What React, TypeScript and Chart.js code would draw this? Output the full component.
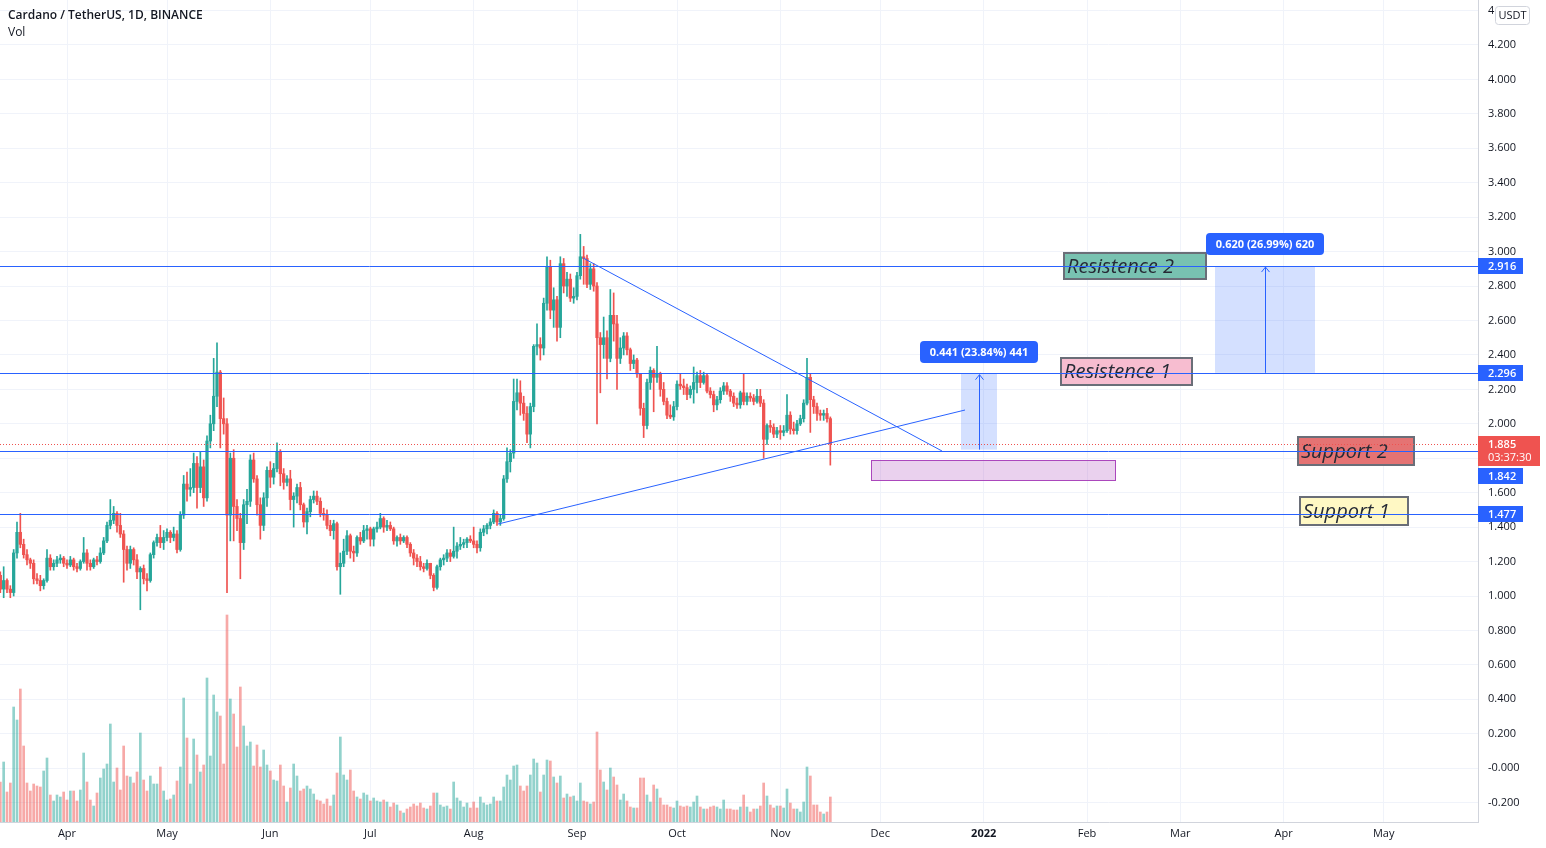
import React, { useEffect, useRef } from 'react';
import { Chart, registerables } from 'chart.js';

Chart.register(...registerables);

// Day index 0 = 2021-03-12 (daily candles through 2021-11-16)
const FIRST_OPEN = 1.12;

const closes = [
  1.04, 1.09, 1.04, 1.02, 1.25, 1.37, 1.30, 1.24, 1.21, 1.19,
  1.10, 1.09, 1.06, 1.09, 1.22, 1.17, 1.19, 1.21, 1.22, 1.19,
  1.18, 1.21, 1.17, 1.16, 1.20, 1.25, 1.19, 1.17, 1.21, 1.20,
  1.25, 1.32, 1.41, 1.44, 1.48, 1.41, 1.36, 1.27, 1.19, 1.27,
  1.21, 1.14, 1.16, 1.10, 1.09, 1.24, 1.31, 1.34, 1.31, 1.34,
  1.37, 1.34, 1.36, 1.27, 1.47, 1.65, 1.62, 1.63, 1.77, 1.63,
  1.75, 1.57, 1.90, 2.00, 2.16, 2.30, 2.03, 2.00, 1.47, 1.80,
  1.52, 1.45, 1.31, 1.53, 1.55, 1.79, 1.68, 1.53, 1.41, 1.57,
  1.73, 1.69, 1.74, 1.84, 1.71, 1.66, 1.68, 1.56, 1.58, 1.63,
  1.53, 1.43, 1.49, 1.56, 1.58, 1.55, 1.48, 1.47, 1.41, 1.38,
  1.42, 1.17, 1.19, 1.26, 1.35, 1.26, 1.25, 1.34, 1.32, 1.38,
  1.39, 1.33, 1.39, 1.40, 1.45, 1.40, 1.41, 1.39, 1.32, 1.34,
  1.32, 1.34, 1.30, 1.25, 1.22, 1.20, 1.17, 1.16, 1.19, 1.12,
  1.05, 1.17, 1.21, 1.22, 1.25, 1.23, 1.26, 1.29, 1.30, 1.31,
  1.33, 1.32, 1.30, 1.28, 1.37, 1.39, 1.41, 1.43, 1.48, 1.43,
  1.45, 1.68, 1.78, 1.83, 2.13, 2.18, 2.12, 2.06, 1.94, 2.10,
  2.45, 2.46, 2.44, 2.70, 2.91, 2.66, 2.72, 2.56, 2.93, 2.80,
  2.84, 2.73, 2.74, 2.86, 2.97, 2.96, 2.81, 2.90, 2.80, 2.50,
  2.46, 2.50, 2.38, 2.63, 2.58, 2.38, 2.44, 2.51, 2.43, 2.35,
  2.37, 2.29, 2.09, 1.99, 2.24, 2.31, 2.27, 2.29, 2.20, 2.13,
  2.05, 2.04, 2.10, 2.23, 2.22, 2.21, 2.17, 2.20, 2.24, 2.28,
  2.24, 2.28, 2.19, 2.17, 2.11, 2.14, 2.19, 2.22, 2.19, 2.16,
  2.12, 2.11, 2.18, 2.13, 2.16, 2.15, 2.13, 2.16, 2.12, 1.91,
  1.99, 1.98, 1.94, 1.96, 1.95, 1.96, 2.05, 1.97, 1.96, 2.00,
  2.03, 2.12, 2.27, 2.14, 2.10, 2.06, 2.05, 2.06, 2.03, 1.885,
];

const highs = [
  1.14, 1.17, 1.10, 1.06, 1.27, 1.43, 1.48, 1.33, 1.27, 1.22,
  1.21, 1.13, 1.12, 1.10, 1.27, 1.24, 1.21, 1.23, 1.24, 1.23,
  1.21, 1.23, 1.22, 1.19, 1.21, 1.34, 1.27, 1.21, 1.22, 1.23,
  1.28, 1.34, 1.43, 1.56, 1.52, 1.49, 1.48, 1.38, 1.29, 1.29,
  1.28, 1.24, 1.17, 1.18, 1.13, 1.25, 1.32, 1.36, 1.41, 1.38,
  1.39, 1.38, 1.40, 1.38, 1.49, 1.70, 1.72, 1.74, 1.83, 1.81,
  1.84, 1.79, 1.93, 2.05, 2.38, 2.47, 2.31, 2.15, 2.03, 1.83,
  1.85, 1.56, 1.48, 1.56, 1.62, 1.82, 1.83, 1.70, 1.57, 1.60,
  1.75, 1.78, 1.77, 1.89, 1.85, 1.74, 1.70, 1.73, 1.60, 1.65,
  1.66, 1.54, 1.51, 1.58, 1.61, 1.61, 1.57, 1.51, 1.50, 1.44,
  1.44, 1.43, 1.25, 1.33, 1.38, 1.36, 1.29, 1.35, 1.37, 1.41,
  1.41, 1.40, 1.40, 1.43, 1.48, 1.46, 1.44, 1.43, 1.40, 1.35,
  1.36, 1.35, 1.35, 1.31, 1.27, 1.24, 1.23, 1.19, 1.21, 1.19,
  1.13, 1.18, 1.22, 1.24, 1.27, 1.27, 1.40, 1.31, 1.34, 1.33,
  1.34, 1.35, 1.40, 1.32, 1.39, 1.41, 1.42, 1.45, 1.50, 1.49,
  1.47, 1.70, 1.86, 1.85, 2.26, 2.26, 2.25, 2.16, 2.10, 2.12,
  2.46, 2.58, 2.50, 2.73, 2.97, 2.95, 2.79, 2.74, 2.97, 2.96,
  2.88, 2.87, 2.79, 2.88, 3.10, 3.03, 2.98, 2.93, 2.93, 2.82,
  2.53, 2.62, 2.54, 2.78, 2.76, 2.63, 2.50, 2.53, 2.53, 2.44,
  2.40, 2.38, 2.29, 2.12, 2.26, 2.33, 2.32, 2.45, 2.30, 2.24,
  2.15, 2.11, 2.13, 2.25, 2.29, 2.26, 2.23, 2.22, 2.33, 2.30,
  2.31, 2.30, 2.29, 2.21, 2.19, 2.16, 2.21, 2.24, 2.24, 2.20,
  2.18, 2.15, 2.19, 2.29, 2.18, 2.18, 2.17, 2.20, 2.20, 2.14,
  2.00, 2.02, 2.00, 1.98, 1.99, 1.99, 2.17, 2.07, 2.01, 2.02,
  2.05, 2.14, 2.38, 2.29, 2.16, 2.12, 2.08, 2.08, 2.09, 2.04,
];

const lows = [
  1.02, 0.99, 1.02, 0.99, 1.00, 1.22, 1.28, 1.22, 1.18, 1.16,
  1.07, 1.07, 1.03, 1.04, 1.08, 1.15, 1.15, 1.17, 1.19, 1.17,
  1.16, 1.17, 1.15, 1.14, 1.15, 1.19, 1.15, 1.15, 1.16, 1.18,
  1.19, 1.24, 1.31, 1.39, 1.42, 1.37, 1.34, 1.08, 1.15, 1.16,
  1.18, 1.10, 0.92, 1.07, 1.03, 1.08, 1.22, 1.29, 1.28, 1.27,
  1.32, 1.31, 1.32, 1.25, 1.26, 1.45, 1.55, 1.58, 1.60, 1.51,
  1.60, 1.52, 1.55, 1.86, 1.96, 2.10, 1.86, 1.94, 1.02, 1.32,
  1.32, 1.38, 1.10, 1.27, 1.42, 1.52, 1.66, 1.47, 1.33, 1.38,
  1.52, 1.63, 1.65, 1.72, 1.64, 1.62, 1.64, 1.50, 1.40, 1.54,
  1.50, 1.40, 1.36, 1.46, 1.54, 1.53, 1.46, 1.44, 1.39, 1.35,
  1.33, 1.15, 1.01, 1.17, 1.24, 1.22, 1.20, 1.23, 1.30, 1.31,
  1.33, 1.29, 1.29, 1.37, 1.39, 1.37, 1.38, 1.38, 1.30, 1.29,
  1.30, 1.31, 1.28, 1.23, 1.18, 1.17, 1.15, 1.14, 1.15, 1.10,
  1.03, 1.04, 1.15, 1.18, 1.20, 1.20, 1.22, 1.22, 1.27, 1.28,
  1.28, 1.31, 1.28, 1.25, 1.26, 1.35, 1.36, 1.39, 1.42, 1.41,
  1.41, 1.44, 1.66, 1.72, 1.80, 2.08, 2.05, 2.02, 1.89, 1.86,
  2.07, 2.40, 2.37, 2.40, 2.66, 2.61, 2.56, 2.48, 2.50, 2.76,
  2.74, 2.71, 2.70, 2.72, 2.84, 2.81, 2.79, 2.78, 2.77, 2.00,
  2.18, 2.38, 2.26, 2.36, 2.48, 2.20, 2.35, 2.40, 2.40, 2.31,
  2.32, 2.27, 2.05, 1.92, 1.97, 2.20, 2.07, 2.24, 2.16, 2.11,
  2.03, 2.03, 2.02, 2.08, 2.20, 2.17, 2.14, 2.15, 2.12, 2.18,
  2.21, 2.23, 2.18, 2.15, 2.07, 2.08, 2.12, 2.17, 2.17, 2.13,
  2.10, 2.09, 2.09, 2.11, 2.11, 2.13, 2.11, 2.12, 2.10, 1.80,
  1.88, 1.95, 1.92, 1.92, 1.91, 1.93, 1.95, 1.94, 1.94, 1.94,
  1.99, 2.01, 2.11, 1.95, 2.06, 2.02, 2.02, 2.02, 2.01, 1.76,
];

// Daily volume, millions ADA
const volumes = [
  400, 600, 300, 390, 1150, 1020, 1330, 760, 390, 310,
  380, 360, 350, 510, 640, 270, 210, 270, 250, 300,
  220, 310, 310, 210, 320, 690, 400, 220, 160, 290,
  440, 530, 580, 980, 400, 540, 320, 760, 460, 450,
  390, 500, 890, 420, 310, 460, 380, 380, 550, 310,
  220, 230, 270, 410, 550, 1240, 840, 380, 830, 670,
  500, 570, 1440, 660, 1270, 1100, 1060, 580, 2070, 1230,
  1080, 750, 1350, 960, 760, 800, 560, 770, 550, 720,
  570, 510, 420, 410, 570, 360, 200, 340, 580, 460,
  310, 330, 360, 330, 280, 220, 210, 180, 230, 160,
  270, 490, 850, 470, 420, 520, 310, 250, 230, 290,
  270, 210, 240, 210, 200, 220, 200, 150, 190, 170,
  110, 90, 130, 150, 180, 160, 190, 140, 130, 160,
  290, 290, 170, 150, 160, 130, 400, 240, 210, 150,
  190, 140, 200, 140, 250, 190, 170, 180, 250, 210,
  210, 350, 470, 420, 560, 570, 360, 310, 360, 470,
  630, 590, 300, 470, 620, 610, 450, 390, 460, 240,
  280, 250, 260, 210, 390, 210, 200, 180, 200, 900,
  520, 400, 320, 540, 450, 370, 220, 280, 210, 150,
  140, 140, 440, 440, 270, 200, 370, 330, 240, 170,
  170, 150, 140, 210, 160, 150, 160, 150, 200, 260,
  150, 130, 130, 150, 160, 150, 130, 220, 130, 130,
  120, 120, 150, 270, 150, 100, 130, 130, 160, 390,
  260, 170, 140, 160, 160, 140, 330, 190, 130, 130,
  100, 200, 550, 460, 170, 170, 100, 80, 100, 250,
];

const monthTicks = [20, 50, 81, 111, 142, 173, 203, 234, 264, 295, 326, 354, 385, 415];
const monthLabels = ['Apr', 'May', 'Jun', 'Jul', 'Aug', 'Sep', 'Oct', 'Nov', 'Dec', '2022', 'Feb', 'Mar', 'Apr', 'May'];
const priceTicks = [-0.2, 0, 0.2, 0.4, 0.6, 0.8, 1.0, 1.2, 1.4, 1.6, 1.8, 2.0, 2.2, 2.4, 2.6, 2.8, 3.0, 3.2, 3.4, 3.6, 3.8, 4.0, 4.2, 4.4];

const levels = [2.916, 2.296, 1.842, 1.477];
const currentPrice = 1.885;
const countdown = '03:37:30';
const trendLines = [
  [174.8, 2.963, 282.5, 1.842],
  [149.3, 1.418, 289.4, 2.08],
];
const zoneBox = [261.2, 1.674, 334.4, 1.79];
const measures = [
  { x0: 288.2, x1: 299.0, from: 1.85, to: 2.291, label: '0.441 (23.84%) 441' },
  { x0: 364.4, x1: 394.4, from: 2.296, to: 2.916, label: '0.620 (26.99%) 620' },
];
const notes = [
  { text: 'Resistence 2', x0: 318.8, x1: 362.0, lo: 2.835, hi: 2.998, fill: '#78c2b1' },
  { text: 'Resistence 1', x0: 318.0, x1: 357.8, lo: 2.22, hi: 2.388, fill: '#f7bdd0' },
  { text: 'Support 2', x0: 389.0, x1: 424.4, lo: 1.755, hi: 1.929, fill: '#e57373' },
  { text: 'Support 1', x0: 389.6, x1: 422.6, lo: 1.407, hi: 1.581, fill: '#fff8c4' },
];

const UP = '#26a69a';
const DOWN = '#ef5350';
const UP_VOL = 'rgba(38,166,154,0.5)';
const DOWN_VOL = 'rgba(239,83,80,0.5)';
const BLUE = '#2962ff';
const FONT = '"Open Sans", "Noto Sans", sans-serif';
const TEXT = '#131722';

function roundRect(ctx: CanvasRenderingContext2D, x: number, y: number, w: number, h: number, r: number) {
  ctx.beginPath();
  ctx.moveTo(x + r, y);
  ctx.lineTo(x + w - r, y);
  ctx.quadraticCurveTo(x + w, y, x + w, y + r);
  ctx.lineTo(x + w, y + h - r);
  ctx.quadraticCurveTo(x + w, y + h, x + w - r, y + h);
  ctx.lineTo(x + r, y + h);
  ctx.quadraticCurveTo(x, y + h, x, y + h - r);
  ctx.lineTo(x, y + r);
  ctx.quadraticCurveTo(x, y, x + r, y);
  ctx.closePath();
}

const overlayPlugin = {
  id: 'tvOverlay',
  afterDraw(chart: any) {
    const ctx: CanvasRenderingContext2D = chart.ctx;
    const ca = chart.chartArea;
    const xs = chart.scales.x;
    const ys = chart.scales.y;
    const px = (v: number) => xs.getPixelForValue(v);
    const py = (v: number) => ys.getPixelForValue(v);

    ctx.save();
    ctx.beginPath();
    ctx.rect(ca.left, ca.top, ca.right - ca.left, ca.bottom - ca.top);
    ctx.clip();

    // target zone
    {
      const [x0, lo, x1, hi] = zoneBox;
      const l = Math.round(px(x0)) + 0.5, r = Math.round(px(x1)) + 0.5;
      const t = Math.round(py(hi)) + 0.5, b = Math.round(py(lo)) + 0.5;
      ctx.fillStyle = 'rgba(186,104,200,0.3)';
      ctx.fillRect(l, t, r - l, b - t);
      ctx.strokeStyle = '#ab47bc';
      ctx.lineWidth = 1;
      ctx.strokeRect(l, t, r - l, b - t);
    }

    // price range measurements
    for (const m of measures) {
      const l = px(m.x0), r = px(m.x1), t = py(m.to), b = py(m.from);
      ctx.fillStyle = 'rgba(41,98,255,0.2)';
      ctx.fillRect(l, t, r - l, b - t);
      const cx = Math.round((l + r) / 2) + 0.5;
      ctx.strokeStyle = BLUE;
      ctx.lineWidth = 1;
      ctx.beginPath();
      ctx.moveTo(cx, b);
      ctx.lineTo(cx, t + 1);
      ctx.stroke();
      ctx.beginPath();
      ctx.moveTo(cx - 4, t + 6);
      ctx.lineTo(cx, t + 1);
      ctx.lineTo(cx + 4, t + 6);
      ctx.stroke();
    }

    // text notes
    for (const n of notes) {
      const l = Math.round(px(n.x0)), r = Math.round(px(n.x1));
      const t = Math.round(py(n.hi)), b = Math.round(py(n.lo));
      ctx.fillStyle = n.fill;
      ctx.fillRect(l, t, r - l, b - t);
      ctx.strokeStyle = '#6a6e78';
      ctx.lineWidth = 2;
      ctx.strokeRect(l + 1, t + 1, r - l - 2, b - t - 2);
      ctx.fillStyle = '#262a35';
      ctx.font = `italic 20px ${FONT}`;
      ctx.textAlign = 'left';
      ctx.textBaseline = 'middle';
      ctx.fillText(n.text, l + 4, (t + b) / 2 + 1);
    }

    // horizontal levels
    ctx.strokeStyle = BLUE;
    ctx.lineWidth = 1;
    for (const lv of levels) {
      const yy = Math.round(py(lv)) + 0.5;
      ctx.beginPath();
      ctx.moveTo(ca.left, yy);
      ctx.lineTo(ca.right, yy);
      ctx.stroke();
    }

    // current price dotted line
    {
      const yy = Math.round(py(currentPrice)) + 0.5;
      ctx.save();
      ctx.strokeStyle = DOWN;
      ctx.setLineDash([1, 2]);
      ctx.beginPath();
      ctx.moveTo(ca.left, yy);
      ctx.lineTo(ca.right, yy);
      ctx.stroke();
      ctx.restore();
    }

    // trend lines
    ctx.strokeStyle = BLUE;
    ctx.lineWidth = 1;
    for (const [x0, y0, x1, y1] of trendLines) {
      ctx.beginPath();
      ctx.moveTo(px(x0), py(y0));
      ctx.lineTo(px(x1), py(y1));
      ctx.stroke();
    }
    ctx.restore();

    // measurement labels
    ctx.save();
    for (const m of measures) {
      const cx = (px(m.x0) + px(m.x1)) / 2;
      const t = py(m.to);
      const w = 118, h = 22;
      const bx = Math.round(cx - w / 2), by = Math.round(t - 11 - h);
      ctx.fillStyle = BLUE;
      roundRect(ctx, bx, by, w, h, 4);
      ctx.fill();
      ctx.fillStyle = '#ffffff';
      ctx.font = `bold 11px ${FONT}`;
      ctx.textAlign = 'center';
      ctx.textBaseline = 'middle';
      ctx.fillText(m.label, bx + w / 2, by + h / 2 + 0.5);
    }

    // price axis tags
    const curY = Math.round(py(currentPrice));
    const curTop = curY - 8, curBottom = curTop + 30;
    for (const lv of levels) {
      const yy = Math.round(py(lv));
      let top = yy - 8;
      if (top + 16 > curTop && top < curBottom) top = curBottom + 2;
      ctx.fillStyle = BLUE;
      ctx.fillRect(ca.right, top, 45, 16);
      ctx.fillStyle = '#ffffff';
      ctx.font = `600 11px ${FONT}`;
      ctx.textAlign = 'left';
      ctx.textBaseline = 'middle';
      ctx.fillText(lv.toFixed(3), ca.right + 10, top + 8.5);
    }
    ctx.fillStyle = DOWN;
    ctx.fillRect(ca.right, curTop, 62, 30);
    ctx.fillStyle = '#ffffff';
    ctx.font = `600 11px ${FONT}`;
    ctx.textAlign = 'left';
    ctx.textBaseline = 'middle';
    ctx.fillText(currentPrice.toFixed(3), ca.right + 10, curTop + 8.5);
    ctx.font = `11px ${FONT}`;
    ctx.fillText(countdown, ca.right + 10, curTop + 22);

    // currency badge
    ctx.fillStyle = '#ffffff';
    roundRect(ctx, ca.right + 17.5, 6.5, 34, 18, 3);
    ctx.fill();
    ctx.strokeStyle = '#d1d4dc';
    ctx.lineWidth = 1;
    ctx.stroke();
    ctx.fillStyle = TEXT;
    ctx.font = `11px ${FONT}`;
    ctx.textAlign = 'center';
    ctx.fillText('USDT', ca.right + 34.5, 16);

    // title
    ctx.textAlign = 'left';
    ctx.textBaseline = 'middle';
    ctx.fillStyle = TEXT;
    ctx.font = `600 12px ${FONT}`;
    ctx.fillText('Cardano / TetherUS, 1D, BINANCE', 8, 16);
    ctx.font = `12px ${FONT}`;
    ctx.fillText('Vol', 8, 33);
    ctx.restore();
  },
};

export default function App() {
  const ref = useRef<HTMLCanvasElement | null>(null);

  useEffect(() => {
    document.body.style.margin = '0';
    const canvas = ref.current;
    if (!canvas) return;

    const opens = closes.map((c, i) => (i === 0 ? FIRST_OPEN : closes[i - 1]));
    const up = closes.map((c, i) => c >= opens[i]);
    const bodyData = closes.map((c, i) => ({ x: i, y: [opens[i], c] }));
    const wickData = closes.map((c, i) => ({
      x: i,
      y: [Math.min(lows[i], opens[i], c), Math.max(highs[i], opens[i], c)],
    }));
    const volData = volumes.map((v, i) => ({ x: i, y: v }));

    const chart = new Chart(canvas, {
      type: 'bar',
      data: {
        datasets: [
          {
            label: 'body',
            data: bodyData as any,
            backgroundColor: up.map((u) => (u ? UP : DOWN)),
            barThickness: 2.6,
            minBarLength: 1,
            grouped: false,
            order: 1,
            yAxisID: 'y',
          },
          {
            label: 'wick',
            data: wickData as any,
            backgroundColor: up.map((u) => (u ? UP : DOWN)),
            barThickness: 1,
            grouped: false,
            order: 2,
            yAxisID: 'y',
          },
          {
            label: 'volume',
            data: volData as any,
            backgroundColor: up.map((u) => (u ? UP_VOL : DOWN_VOL)),
            barThickness: 2,
            grouped: false,
            order: 3,
            yAxisID: 'yv',
          },
        ],
      },
      options: {
        animation: false,
        responsive: false,
        devicePixelRatio: 1,
        layout: { padding: 0 },
        plugins: { legend: { display: false }, tooltip: { enabled: false }, title: { display: false } },
        scales: {
          x: {
            type: 'linear',
            position: 'bottom',
            min: -0.1,
            max: 443.3,
            offset: false,
            grid: { color: '#f0f3fa', drawTicks: false, offset: false },
            border: { display: true, color: '#d1d4dc' },
            afterBuildTicks: (scale: any) => {
              scale.ticks = monthTicks.map((v) => ({ value: v }));
            },
            afterFit: (scale: any) => {
              scale.height = 26;
              scale.paddingLeft = 0;
              scale.paddingRight = 0;
            },
            ticks: {
              autoSkip: false,
              maxRotation: 0,
              padding: 5,
              color: TEXT,
              font: (c: any) => ({
                family: FONT,
                size: 11,
                weight: c.tick && c.tick.value === 295 ? 'bold' : 'normal',
              }),
              callback: (v: any) => {
                const k = monthTicks.indexOf(Number(v));
                return k >= 0 ? monthLabels[k] : '';
              },
            },
          },
          y: {
            type: 'linear',
            position: 'right',
            min: -0.3124,
            max: 4.4611,
            grid: { color: '#f0f3fa', drawTicks: false },
            border: { display: true, color: '#d1d4dc' },
            afterBuildTicks: (scale: any) => {
              scale.ticks = priceTicks.map((v) => ({ value: v }));
            },
            afterFit: (scale: any) => {
              scale.width = 68;
              scale.paddingTop = 0;
              scale.paddingBottom = 0;
            },
            ticks: {
              padding: 10,
              color: TEXT,
              font: { family: FONT, size: 11 },
              callback: (v: any) => {
                const n = Number(v);
                return Math.abs(n) < 1e-9 ? '-0.000' : n.toFixed(3);
              },
            },
          },
          yv: {
            type: 'linear',
            display: false,
            min: 0,
            max: 8220,
          },
        },
      } as any,
      plugins: [overlayPlugin],
    });

    return () => chart.destroy();
  }, []);

  return (
    <div style={{ position: 'absolute', left: 0, top: 0, width: 1546, height: 848, background: '#ffffff' }}>
      <canvas ref={ref} width={1546} height={848} style={{ width: 1546, height: 848, display: 'block' }} />
    </div>
  );
}
